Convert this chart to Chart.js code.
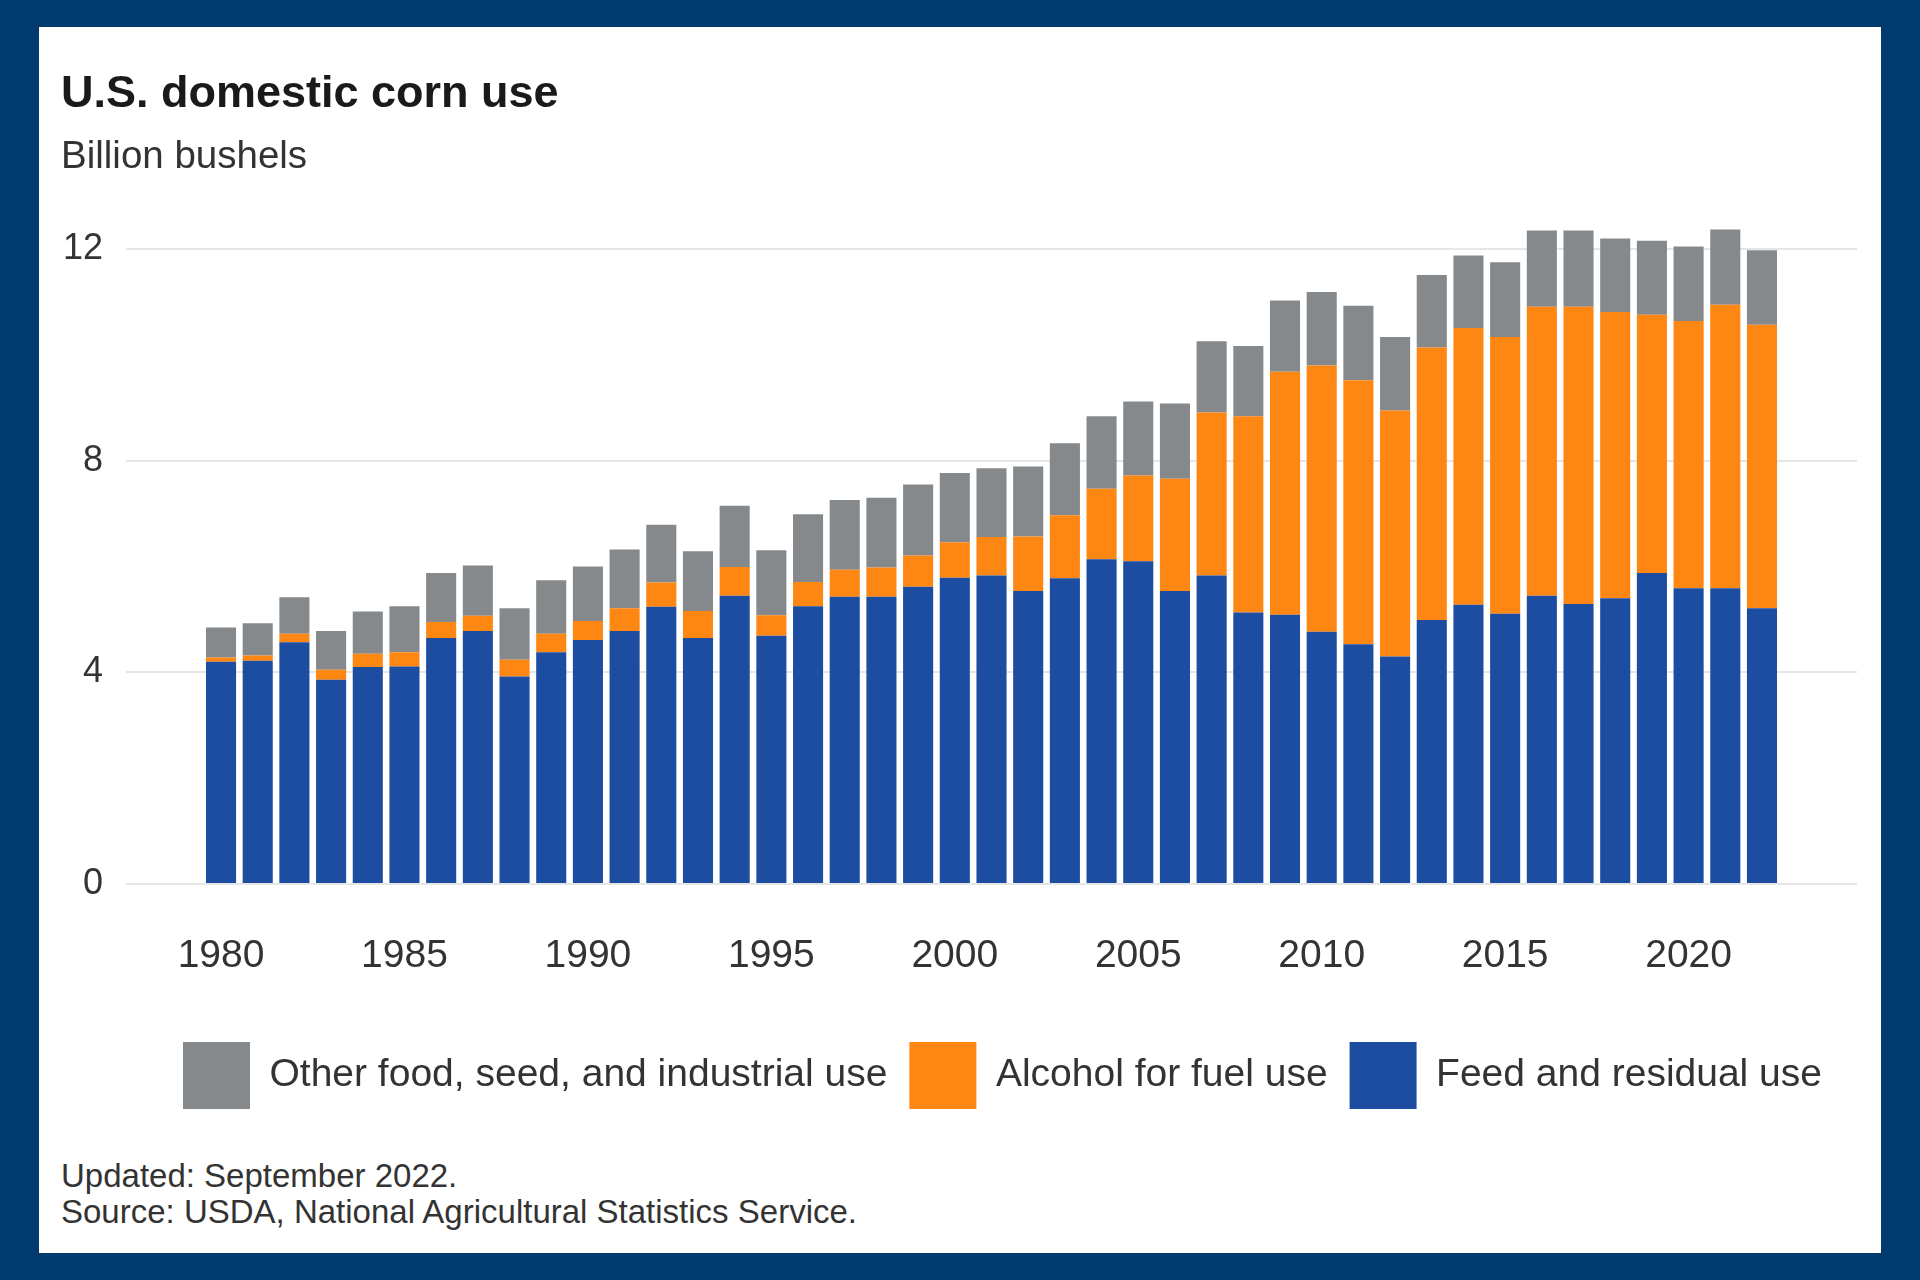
<!DOCTYPE html>
<html>
<head>
<meta charset="utf-8">
<title>U.S. domestic corn use</title>
<script src="https://cdn.jsdelivr.net/npm/chart.js@4.4.1/dist/chart.umd.min.js"></script>
<style>
  html, body { margin: 0; padding: 0; }
  body {
    width: 1920px; height: 1280px; overflow: hidden; position: relative;
    background: #003a6e;
    font-family: 'Liberation Sans', Arial, sans-serif;
  }
  #panel { position: absolute; left: 39px; top: 27px; width: 1842px; height: 1226px; background: #fff; }
  #cornChart { position: absolute; left: 0; top: 0; }
  .note { position: absolute; left: 22px; font-size: 33px; line-height: 36px; color: #333; white-space: nowrap; }
</style>
</head>
<body>
<div id="panel">
  <canvas id="cornChart" width="1842" height="1092"></canvas>
  <div class="note" style="top:1131px">Updated: September 2022.</div>
  <div class="note" style="top:1167px">Source: USDA, National Agricultural Statistics Service.</div>
</div>
<script>
// Marketing years shown on the x axis
const years = [
  1980, 1981, 1982, 1983, 1984, 1985, 1986, 1987, 1988, 1989,
  1990, 1991, 1992, 1993, 1994, 1995, 1996, 1997, 1998, 1999,
  2000, 2001, 2002, 2003, 2004, 2005, 2006, 2007, 2008, 2009,
  2010, 2011, 2012, 2013, 2014, 2015, 2016, 2017, 2018, 2019,
  2020, 2021, 2022
];

// Billion bushels
const feedResidual = [
  4.20, 4.22, 4.57, 3.86, 4.10, 4.11, 4.65, 4.78, 3.92, 4.38,
  4.61, 4.78, 5.24, 4.65, 5.45, 4.69, 5.25, 5.43, 5.43, 5.62,
  5.79, 5.83, 5.54, 5.78, 6.14, 6.10, 5.54, 5.83, 5.13, 5.09,
  4.77, 4.53, 4.30, 4.99, 5.28, 5.11, 5.45, 5.29, 5.40, 5.88,
  5.59, 5.59, 5.21
];
const alcoholFuel = [
  0.08, 0.10, 0.16, 0.19, 0.25, 0.27, 0.30, 0.29, 0.32, 0.35,
  0.36, 0.43, 0.46, 0.51, 0.54, 0.39, 0.46, 0.51, 0.55, 0.59,
  0.67, 0.73, 1.03, 1.19, 1.33, 1.62, 2.12, 3.08, 3.71, 4.59,
  5.03, 4.99, 4.65, 5.15, 5.23, 5.23, 5.46, 5.62, 5.41, 4.88,
  5.05, 5.36, 5.36
];
const otherFsi = [
  0.57, 0.61, 0.69, 0.73, 0.80, 0.87, 0.93, 0.95, 0.97, 1.01,
  1.03, 1.11, 1.09, 1.13, 1.16, 1.23, 1.28, 1.32, 1.32, 1.34,
  1.31, 1.30, 1.32, 1.36, 1.37, 1.40, 1.42, 1.35, 1.33, 1.35,
  1.39, 1.41, 1.39, 1.37, 1.37, 1.41, 1.44, 1.44, 1.39, 1.40,
  1.41, 1.42, 1.41
];

const xTickYears = [1980, 1985, 1990, 1995, 2000, 2005, 2010, 2015, 2020];
const yTickValues = [0, 4, 8, 12];

const seriesLabels = ['Feed and residual use', 'Alcohol for fuel use', 'Other food, seed, and industrial use'];
const seriesColors = ['#1c4da0', '#fe8612', '#86898b'];

function toPoints(values) {
  return years.map((yr, i) => ({ x: yr, y: values[i] }));
}

// the legend row sits a little right of the plot centre in the original
const legendNudge = {
  id: 'legendNudge',
  afterLayout(chart) {
    chart.legend.left += 11;
    chart.legend.right += 11;
  }
};

Chart.defaults.font.family = "'Liberation Sans', Arial, sans-serif";
Chart.defaults.color = '#333';

const ctx = document.getElementById('cornChart').getContext('2d');
const cornChart = new Chart(ctx, {
  type: 'bar',
  data: {
    datasets: [feedResidual, alcoholFuel, otherFsi].map((vals, i) => ({
      label: seriesLabels[i],
      data: toPoints(vals),
      backgroundColor: seriesColors[i],
      borderWidth: 0,
      barPercentage: 0.82,
      categoryPercentage: 1.0
    }))
  },
  plugins: [legendNudge],
  options: {
    responsive: false,
    animation: false,
    layout: { padding: { left: 22, right: 24, top: 0, bottom: 0 } },
    plugins: {
      title: {
        display: true,
        text: 'U.S. domestic corn use',
        align: 'start',
        color: '#1a1a1a',
        font: { size: 45, weight: 'bold' },
        padding: { top: 40.4, bottom: 0 }
      },
      subtitle: {
        display: true,
        text: 'Billion bushels',
        align: 'start',
        color: '#333',
        font: { size: 38.5 },
        padding: { top: 13.2, bottom: 15.4 }
      },
      legend: {
        position: 'bottom',
        fullSize: false,
        reverse: true,
        labels: {
          boxWidth: 67,
          boxHeight: 67,
          padding: 22,
          color: '#333',
          font: { size: 39 }
        }
      },
      tooltip: { enabled: false }
    },
    scales: {
      x: {
        type: 'linear',
        stacked: true,
        offset: false,
        min: 1977.41,
        max: 2024.59,
        grid: { display: false, drawTicks: false, offset: false },
        border: { display: false },
        afterBuildTicks: (scale) => { scale.ticks = xTickYears.map(v => ({ value: v })); },
        afterFit: (scale) => { scale.height = 136; },
        ticks: {
          autoSkip: false,
          maxRotation: 0,
          padding: 49,
          color: '#333',
          font: { size: 39 },
          callback: (value) => String(value)
        }
      },
      y: {
        stacked: true,
        min: 0,
        max: 13,
        grid: { color: '#e6e6e6', lineWidth: 2, drawTicks: false },
        border: { display: false },
        afterBuildTicks: (scale) => { scale.ticks = yTickValues.map(v => ({ value: v })); },
        afterFit: (scale) => { scale.width = 65; },
        ticks: {
          padding: 23,
          color: '#333',
          font: { size: 36 }
        }
      }
    }
  }
});
</script>
</body>
</html>
